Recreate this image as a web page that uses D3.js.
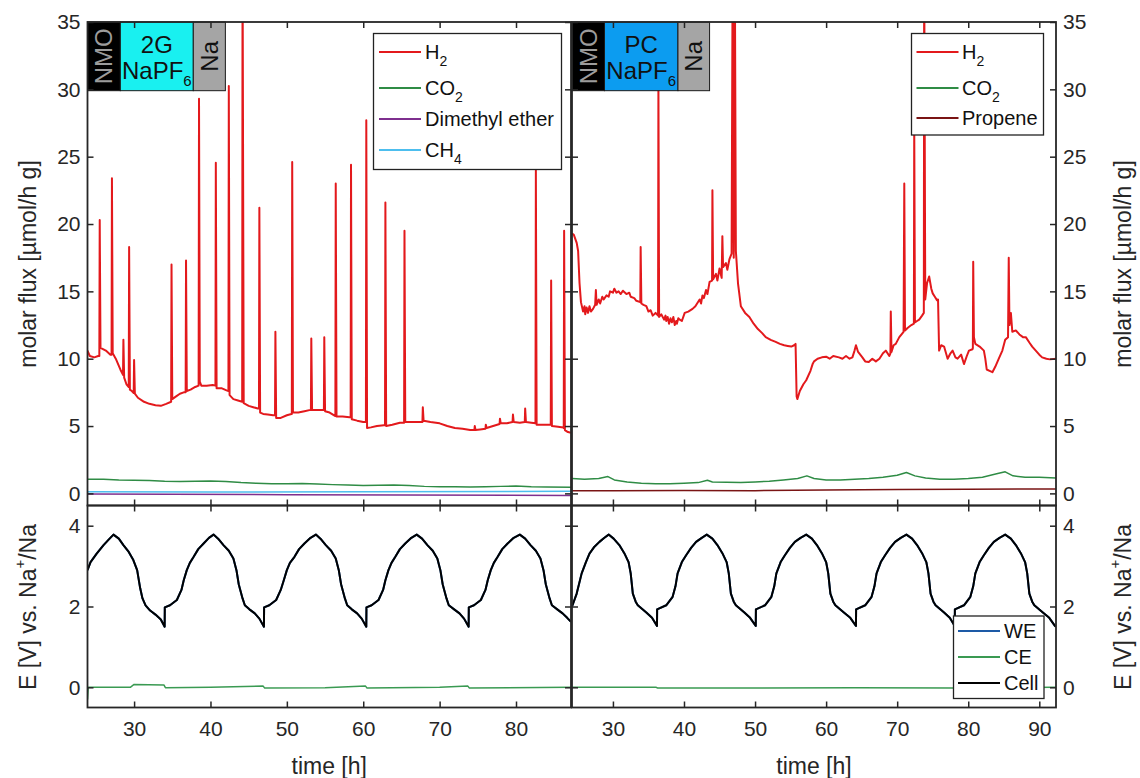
<!DOCTYPE html>
<html><head><meta charset="utf-8">
<script src="https://cdn.jsdelivr.net/npm/d3@7"></script>
<style>body{margin:0;background:#fff} text{font-family:"Liberation Sans",Arial,Helvetica,sans-serif}</style>
</head><body>
<script>
// ---------------- DATA ----------------
// time [h], molar flux [µmol/h g] — left panel (2G NaPF6)
const h2Left = [[23.9,10.6],[24.2,10.2],[24.8,10.1],[25.3,10.2],
[25.45,10.2],[25.5,20.3],[25.6,10.8],[25.8,10.75],[26.3,10.6],[26.9,10.3],
[27.05,10.3],[27.1,23.4],[27.2,10.4],[27.6,10.0],[28.2,9.2],
[28.55,8.8],[28.6,11.4],[28.7,8.6],[29.0,8.1],
[29.3,7.9],[29.35,18.3],[29.45,7.7],[29.7,7.6],
[29.95,7.45],[30.0,9.9],[30.1,7.4],[30.5,7.1],[31.3,6.8],[32.0,6.65],[32.8,6.55],[33.5,6.5],[34.2,6.65],
[34.85,6.8],[34.9,17.0],[35.0,7.0],[35.5,7.2],[36.0,7.4],[36.5,7.5],
[36.75,7.5],[36.8,17.3],[36.9,7.6],[37.4,7.7],[38.0,7.9],
[38.45,8.0],[38.5,29.3],[38.6,8.3],[38.8,8.0],[39.5,8.0],[40.3,8.05],
[40.65,8.0],[40.7,24.55],[40.8,7.8],[41.5,7.8],[42.1,7.65],
[42.35,7.6],[42.4,30.25],[42.5,7.3],[43.0,7.0],[43.6,6.9],
[44.15,6.8],[44.2,40],[44.35,6.7],[45.0,6.5],[45.6,6.4],[46.2,6.3],
[46.35,6.3],[46.4,21.2],[46.5,6.0],[46.9,5.9],[47.5,5.85],[48.2,5.8],
[48.45,5.8],[48.5,12.0],[48.6,5.6],[49.2,5.6],[50.0,5.8],[50.6,5.9],
[50.65,5.9],[50.7,24.6],[50.8,6.0],[51.5,6.0],[52.3,6.1],[53.1,6.2],
[53.15,6.2],[53.2,11.5],[53.3,6.2],[54.0,6.2],[54.8,6.2],
[54.85,6.2],[54.9,11.6],[55.0,6.1],[55.6,6.0],[56.3,5.75],
[56.35,5.75],[56.4,23.0],[56.5,5.7],[57.3,5.7],[58.2,5.65],
[58.35,5.65],[58.4,24.4],[58.5,5.5],[59.2,5.4],[60.0,5.3],
[60.35,5.3],[60.4,27.7],[60.5,4.85],[61.0,4.9],[61.8,5.0],[62.7,5.05],
[62.85,5.05],[62.9,21.6],[63.0,5.0],[63.8,5.1],[64.8,5.25],
[65.35,5.25],[65.4,19.5],[65.5,5.3],[66.3,5.3],[67.2,5.3],
[67.75,5.3],[67.8,6.4],[67.9,5.4],[68.8,5.3],[70.0,5.2],[71.0,5.0],[72.0,4.85],[73.0,4.8],[74.0,4.7],
[74.55,4.7],[74.6,5.0],[74.7,4.7],[75.3,4.75],[76.0,4.8],[76.05,5.1],[76.15,4.85],[77.0,5.0],[77.85,5.15],[77.9,5.55],[78.0,5.2],
[78.8,5.2],[79.55,5.3],[79.6,5.85],[79.7,5.3],[80.5,5.25],[81.15,5.3],[81.2,6.3],[81.3,5.3],[82.0,5.25],
[82.55,5.2],[82.6,24.0],[82.7,5.1],[83.5,5.1],[84.5,5.1],
[84.55,5.1],[84.6,15.8],[84.7,5.0],[85.5,4.95],[86.2,4.9],
[86.25,4.85],[86.3,19.5],[86.4,4.7],[86.8,4.55],[87.2,4.5]];
const co2Left = [[23.9,1.05],[26,1.05],[28,1.0],[30,0.98],[32,0.95],[34,0.9],[36,0.88],[38,0.9],[40,0.92],[42,0.88],[44,0.8],[46,0.75],[48,0.72],[50,0.72],[52,0.73],[54,0.7],[56,0.65],[58,0.62],[60,0.58],[62,0.6],[64,0.62],[66,0.58],[68,0.52],[70,0.5],[72,0.5],[74,0.48],[76,0.5],[78,0.52],[80,0.55],[82,0.5],[84,0.48],[87.2,0.45]];
const dmeLeft = [[23.9,-0.05],[35,-0.07],[50,-0.1],[65,-0.12],[87.2,-0.15]];
const ch4Left = [[23.9,0.12],[40,0.1],[60,0.12],[87.2,0.15]];

// right panel (PC NaPF6)
const h2Right = [[24.25,19.3],[24.5,19.2],[24.9,18.6],[25.1,18.0],[25.3,15.6],[25.5,14.2],[25.8,13.5],[26.0,13.9],[26.1,13.3],[26.3,13.8],[26.5,13.4],[26.7,13.9],[26.9,13.5],[27.2,13.7],[27.5,14.0],[27.6,15.1],[27.7,14.0],[28.0,14.4],[28.2,14.1],[28.5,14.6],[28.7,14.4],[29.1,14.7],[29.4,14.6],[29.6,15.0],[30.0,14.9],[30.2,15.2],[30.5,14.9],[30.8,15.0],[31.1,14.8],[31.4,15.05],[31.9,14.8],[32.3,14.9],[32.5,14.6],[33.0,14.5],[33.3,14.3],[33.85,14.2],[33.9,18.3],[34.0,14.1],[34.3,14.0],[34.7,13.9],[35.0,13.5],[35.3,13.6],[35.6,13.2],[36.0,13.4],[36.35,13.2],[36.4,30.5],[36.5,13.1],[36.8,13.3],[37.2,12.9],[37.4,13.2],[37.5,12.8],[37.7,13.1],[37.9,12.6],[38.1,13.0],[38.3,12.7],[38.5,13.1],[38.7,12.5],[38.9,12.8],[39.0,12.6],[39.2,13.0],[39.4,12.9],[39.7,12.8],[40.1,13.4],[40.6,13.5],[41.2,13.7],[41.6,13.9],[42.2,14.4],[42.4,14.1],[42.6,14.7],[42.8,14.5],[43.1,15.1],[43.3,14.8],[43.6,15.7],[43.95,15.8],[44.0,22.5],[44.1,15.9],[44.5,16.3],[44.7,15.8],[45.0,16.7],[45.3,16.0],[45.4,19.1],[45.5,16.8],[45.9,17.1],[46.1,16.6],[46.4,17.4],[46.7,17.8],[46.85,40],[47.0,17.5],[47.15,40],[47.3,18.0],[47.6,15.6],[48.0,13.9],[48.6,13.4],[49.2,13.1],[49.8,12.6],[50.4,12.2],[51.0,11.9],[51.5,11.6],[52.2,11.4],[52.9,11.25],[53.5,11.1],[54.1,11.0],[54.6,10.95],[55.1,10.9],[55.5,11.0],[55.7,11.1],[55.85,7.2],[55.95,7.0],[56.3,7.6],[56.8,8.1],[57.2,8.4],[57.8,9.1],[58.1,9.6],[58.3,9.8],[58.8,10.0],[59.4,10.1],[60.0,10.15],[60.5,10.0],[61.0,10.2],[61.8,10.1],[62.3,10.0],[62.8,10.2],[63.3,10.0],[63.7,10.1],[64.0,10.6],[64.2,11.0],[64.5,10.5],[65.1,10.1],[65.5,9.8],[66.0,9.75],[66.5,10.0],[67.0,9.8],[67.5,10.0],[68.0,10.4],[68.4,10.6],[68.9,10.2],[69.05,10.4],[69.1,13.5],[69.2,10.5],[69.5,11.0],[69.8,11.1],[70.3,11.6],[70.9,12.0],[71.0,23.0],[71.1,12.1],[71.5,12.3],[72.0,12.5],[72.35,12.6],[72.4,27.5],[72.5,12.7],[72.8,12.8],[73.1,12.9],[73.5,13.2],[73.75,13.4],[73.8,40],[73.95,14.4],[74.2,15.6],[74.5,16.1],[74.8,15.2],[75.0,14.85],[75.3,14.6],[75.6,14.35],[75.75,14.4],[75.9,10.6],[76.2,11.0],[76.6,10.9],[77.1,10.0],[77.5,10.4],[77.8,10.6],[78.2,10.1],[78.5,10.0],[79.0,10.3],[79.4,9.6],[79.8,10.2],[80.1,10.6],[80.6,10.7],[80.65,10.8],[80.7,17.2],[80.8,11.6],[81.0,11.1],[81.6,10.9],[82.2,10.6],[82.4,10.0],[82.6,9.2],[83.0,9.1],[83.4,9.0],[83.8,9.4],[84.3,10.0],[84.8,10.6],[85.2,11.4],[85.6,11.6],[85.7,17.5],[85.8,12.5],[86.0,13.4],[86.2,12.0],[86.7,12.1],[87.2,11.8],[87.7,11.6],[88.1,11.6],[88.6,11.2],[89.0,10.9],[89.5,10.6],[90.0,10.3],[90.4,10.1],[91.0,10.0],[91.5,9.95],[92.35,10.0]];
const co2Right = [[24.25,1.1],[26,1.05],[28,1.1],[29.3,1.25],[30.2,1.0],[32,0.85],[34,0.75],[36,0.72],[38,0.72],[40,0.75],[42,0.8],[43.3,0.97],[44,0.85],[46,0.82],[48,0.8],[50,0.85],[52,0.9],[54,1.0],[56,1.1],[57.3,1.3],[58.3,1.1],[60,1.0],[62,1.0],[64,1.05],[66,1.1],[68,1.2],[70,1.35],[71.3,1.55],[72.5,1.3],[74,1.15],[76,1.05],[78,1.05],[80,1.1],[82,1.2],[84,1.45],[85.2,1.6],[86.3,1.3],[88,1.2],[90,1.2],[92.35,1.15]];
const propeneRight = [[24.25,0.2],[30,0.2],[40,0.22],[50,0.2],[60,0.25],[70,0.28],[80,0.3],[92.35,0.33]];

// potentials E [V] vs Na+/Na
const cellLeft = [[23.9,2.9],[24.3,3.1],[25.1,3.31],[26.0,3.52],[26.7,3.66],[27.3,3.78],[28.0,3.68],[28.6,3.52],[29.3,3.35],[29.9,3.15],[30.4,2.9],[30.8,2.45],[31.1,2.2],[31.5,2.03],[32.1,1.9],[32.8,1.8],[33.5,1.68],[34.0,1.5],[34.02,1.98],
[34.7,2.03],[35.6,2.16],[36.2,2.41],[36.5,2.65],[36.9,2.9],[37.3,3.08],[37.8,3.23],[38.4,3.42],[39.1,3.56],[39.8,3.7],[40.4,3.78],[41.0,3.68],[41.7,3.52],[42.4,3.38],[43.0,3.19],[43.4,2.9],[43.7,2.55],[43.9,2.41],[44.2,2.2],[44.5,2.03],[45.1,1.93],[45.8,1.83],[46.4,1.7],[47.0,1.5],[47.02,1.98],
[47.7,2.03],[48.6,2.16],[49.2,2.41],[49.6,2.65],[50.0,2.9],[50.4,3.08],[51.0,3.23],[51.6,3.42],[52.3,3.56],[53.1,3.7],[53.8,3.78],[54.4,3.68],[55.1,3.52],[55.8,3.38],[56.4,3.19],[56.8,2.9],[57.1,2.55],[57.3,2.41],[57.6,2.2],[57.9,2.03],[58.5,1.93],[59.2,1.83],[59.8,1.7],[60.4,1.5],[60.42,1.98],
[61.1,2.03],[62.0,2.16],[62.6,2.41],[62.9,2.65],[63.3,2.9],[63.7,3.08],[64.2,3.23],[64.8,3.42],[65.5,3.56],[66.3,3.7],[67.0,3.78],[67.7,3.68],[68.4,3.52],[69.1,3.38],[69.7,3.19],[70.1,2.9],[70.4,2.55],[70.6,2.41],[70.9,2.2],[71.2,2.03],[71.9,1.93],[72.6,1.83],[73.2,1.7],[73.8,1.5],[73.82,1.98],
[74.5,2.03],[75.4,2.16],[76.0,2.41],[76.3,2.65],[76.7,2.9],[77.1,3.08],[77.6,3.23],[78.2,3.42],[78.9,3.56],[79.7,3.7],[80.5,3.78],[81.2,3.68],[81.9,3.52],[82.6,3.38],[83.2,3.19],[83.6,2.9],[83.9,2.55],[84.1,2.41],[84.4,2.2],[84.7,2.03],[85.4,1.93],[86.1,1.83],[86.7,1.72],[87.2,1.62]];
const weLeft = cellLeft;
const ceLeft = [[23.9,-0.3],[24.0,0.0],[29.5,0.0],[30.0,0.07],[33.9,0.06],[34.1,-0.01],[40,0.0],[46.9,0.03],[47.1,-0.02],[55,-0.01],[60.3,0.03],[60.5,-0.02],[70,0.0],[73.7,0.03],[73.9,-0.02],[87.2,0.0]];

const cellRight = [[24.25,2.0],[24.9,2.32],[25.6,2.82],[26.2,3.1],[26.7,3.31],[27.4,3.48],[28.1,3.6],[28.8,3.7],[29.4,3.78],[30.1,3.68],[30.9,3.52],[31.6,3.32],[32.2,3.1],[32.5,2.82],[32.8,2.32],[33.2,2.12],[33.5,2.03],[34.7,1.85],[35.5,1.72],[36.2,1.52],[36.22,1.93],
[37.5,2.03],[38.4,2.24],[38.8,2.5],[39.1,2.82],[39.7,3.1],[40.3,3.27],[41.0,3.45],[41.7,3.6],[42.5,3.7],[43.2,3.78],[44.0,3.68],[44.7,3.52],[45.4,3.32],[46.0,3.1],[46.3,2.82],[46.6,2.32],[47.0,2.12],[47.3,2.03],[48.5,1.85],[49.3,1.72],[50.1,1.52],[50.12,1.93],
[51.4,2.03],[52.3,2.24],[52.7,2.5],[53.0,2.82],[53.6,3.1],[54.2,3.27],[54.9,3.45],[55.6,3.6],[56.4,3.7],[57.2,3.78],[58.0,3.68],[58.7,3.52],[59.4,3.32],[60.0,3.1],[60.3,2.82],[60.6,2.32],[61.0,2.12],[61.3,2.03],[62.5,1.85],[63.4,1.72],[64.2,1.52],[64.22,1.93],
[65.5,2.03],[66.4,2.24],[66.8,2.5],[67.1,2.82],[67.7,3.1],[68.3,3.27],[69.0,3.45],[69.7,3.6],[70.5,3.7],[71.3,3.78],[72.1,3.68],[72.8,3.52],[73.5,3.32],[74.1,3.1],[74.4,2.82],[74.7,2.32],[75.1,2.12],[75.4,2.03],[76.6,1.85],[77.4,1.72],[78.1,1.52],[78.12,1.93],
[79.4,2.03],[80.3,2.24],[80.7,2.5],[81.0,2.82],[81.6,3.1],[82.2,3.27],[82.9,3.45],[83.6,3.6],[84.4,3.7],[85.2,3.78],[86.0,3.68],[86.7,3.52],[87.4,3.32],[88.0,3.1],[88.3,2.82],[88.6,2.32],[89.0,2.12],[89.3,2.03],[90.5,1.85],[91.4,1.72],[92.2,1.52],[92.35,1.5]];
const weRight = cellRight;
const ceRight = [[24.25,0.0],[36.1,0.0],[36.3,-0.02],[50,-0.02],[64,-0.01],[78,-0.02],[92.35,0.0]];

const xTicksLeft = [30,40,50,60,70,80];
const xTicksRight = [30,40,50,60,70,80,90];
const fluxTicks = [0,5,10,15,20,25,30,35];
const potTicks = [0,2,4];

// ---------------- CHART ----------------
const svg = d3.select("body").append("svg").attr("width",1140).attr("height",778);
const topY = d3.scaleLinear().domain([-0.9,35]).range([505.5,22]);
const botY = d3.scaleLinear().domain([-0.5,4.5]).range([707.5,505.5]);
const xL = d3.scaleLinear().domain([23.9,87.2]).range([87.5,571]);
const xR = d3.scaleLinear().domain([24.24,92.35]).range([572,1056]);

const C = {h2:"#e3191c", co2:"#2f8c45", dme:"#7e2f8e", ch4:"#4dbeee", prop:"#7a1414", we:"#1d5aa6", ce:"#3a9a52", cell:"#000"};
const AX = "#262626";

const defs = svg.append("defs");
let clipN = 0;
function clipFor(x,y){
  const id = "c"+(clipN++);
  defs.append("clipPath").attr("id",id).append("rect")
    .attr("x",x.range()[0]).attr("y",y.range()[1])
    .attr("width",x.range()[1]-x.range()[0]).attr("height",y.range()[0]-y.range()[1]);
  return "url(#"+id+")";
}
function drawLines(x,y,series){
  const g = svg.append("g").attr("clip-path",clipFor(x,y));
  series.forEach(s=>{
    g.append("path").datum(s.data).attr("fill","none").attr("stroke",s.color)
      .attr("stroke-width",s.w||1.6).attr("stroke-linejoin","round")
      .attr("d",d3.line().x(d=>x(d[0])).y(d=>y(d[1])));
  });
}
function axes(x,y,xt,yt,o){
  const g = svg.append("g");
  const b = y.range()[0], t = y.range()[1], l = x.range()[0], r = x.range()[1];
  g.append("g").attr("transform",`translate(0,${b})`)
    .call(d3.axisBottom(x).tickValues(xt).tickSizeInner(-6).tickSizeOuter(0).tickPadding(14).tickFormat(o.xl?d3.format("d"):""));
  g.append("g").attr("transform",`translate(0,${t})`)
    .call(d3.axisTop(x).tickValues(xt).tickSizeInner(-6).tickSizeOuter(0).tickFormat(""));
  g.append("g").attr("transform",`translate(${l},0)`)
    .call(d3.axisLeft(y).tickValues(yt).tickSizeInner(-6).tickSizeOuter(0).tickPadding(7).tickFormat(o.yl?d3.format("d"):""));
  g.append("g").attr("transform",`translate(${r},0)`)
    .call(d3.axisRight(y).tickValues(yt).tickSizeInner(-6).tickSizeOuter(0).tickPadding(7).tickFormat(o.yr?d3.format("d"):""));
  g.selectAll(".domain").remove();
  g.selectAll(".tick line").attr("stroke",AX).attr("stroke-width",1.5);
  g.selectAll(".tick text").attr("fill",AX).style("font-size","21px").style("font-family","'Liberation Sans',Arial,sans-serif");
  g.append("rect").attr("x",l).attr("y",t).attr("width",r-l).attr("height",b-t)
    .attr("fill","none").attr("stroke",AX).attr("stroke-width",1.8);
}

// lines
drawLines(xL,topY,[{data:co2Left,color:C.co2,w:1.5},{data:ch4Left,color:C.ch4,w:1.5},{data:dmeLeft,color:C.dme,w:1.5},{data:h2Left,color:C.h2,w:2}]);
drawLines(xR,topY,[{data:co2Right,color:C.co2,w:1.5},{data:propeneRight,color:C.prop,w:1.5},{data:h2Right,color:C.h2,w:2}]);
drawLines(xL,botY,[{data:weLeft,color:C.we,w:2},{data:ceLeft,color:C.ce,w:1.5},{data:cellLeft,color:C.cell,w:2}]);
drawLines(xR,botY,[{data:weRight,color:C.we,w:2},{data:ceRight,color:C.ce,w:1.5},{data:cellRight,color:C.cell,w:2}]);

// cell composition boxes
function cellBoxes(x, edges, midColor, midTop){
  const g = svg.append("g");
  const y0 = topY(35), y1 = topY(29.9);
  const cols = ["#000", midColor, "#a5a5a5"];
  for(let i=0;i<3;i++){
    g.append("rect").attr("x",x(edges[i])).attr("y",y0).attr("width",x(edges[i+1])-x(edges[i])).attr("height",y1-y0)
      .attr("fill",cols[i]).attr("stroke","#1a1a1a").attr("stroke-width",1);
  }
  const cy = (y0+y1)/2;
  const c0 = (x(edges[0])+x(edges[1]))/2, c1 = (x(edges[1])+x(edges[2]))/2, c2 = (x(edges[2])+x(edges[3]))/2;
  g.append("text").attr("transform",`translate(${c0},${cy}) rotate(-90)`).attr("text-anchor","middle")
    .attr("dominant-baseline","central").attr("fill","#9c9c9c").style("font-size","24px").text("NMO");
  g.append("text").attr("transform",`translate(${c2},${cy}) rotate(-90)`).attr("text-anchor","middle")
    .attr("dominant-baseline","central").attr("fill","#111").style("font-size","24px").text("Na");
  g.append("text").attr("x",c1).attr("y",y0+31).attr("text-anchor","middle").attr("fill","#111").style("font-size","24px").text(midTop);
  const t = g.append("text").attr("x",c1).attr("y",y0+57).attr("text-anchor","middle").attr("fill","#111").style("font-size","24px");
  t.append("tspan").text("NaPF");
  t.append("tspan").attr("dy",7).style("font-size","15px").text("6");
}
cellBoxes(xL,[23.9,28.2,37.75,41.95],"#19f0f0","2G");
cellBoxes(xR,[24.24,28.81,39.15,43.6],"#0c9cf0","PC");

axes(xL,topY,xTicksLeft,fluxTicks,{xl:false,yl:true,yr:false});
axes(xR,topY,xTicksRight,fluxTicks,{xl:false,yl:false,yr:true});
axes(xL,botY,xTicksLeft,potTicks,{xl:true,yl:true,yr:false});
axes(xR,botY,xTicksRight,potTicks,{xl:true,yl:false,yr:true});

// legends
function legend(box, lx0, lx1, tx, entries){
  const g = svg.append("g");
  g.append("rect").attr("x",box[0]).attr("y",box[1]).attr("width",box[2]-box[0]).attr("height",box[3]-box[1])
    .attr("fill","#fff").attr("stroke","#222").attr("stroke-width",1.3);
  entries.forEach(e=>{
    g.append("line").attr("x1",lx0).attr("x2",lx1).attr("y1",e.y).attr("y2",e.y).attr("stroke",e.color).attr("stroke-width",2);
    const t = g.append("text").attr("x",tx).attr("y",e.y+7).attr("fill","#111").style("font-size","20px");
    t.append("tspan").text(e.label);
    if(e.sub) t.append("tspan").attr("dy",7).style("font-size","14px").text(e.sub);
  });
}
legend([373.5,33.5,561.5,169.5],379,421,425,[
  {label:"H",sub:"2",color:C.h2,y:52},{label:"CO",sub:"2",color:C.co2,y:88},
  {label:"Dimethyl ether",color:C.dme,y:119},{label:"CH",sub:"4",color:C.ch4,y:150}]);
legend([911.5,33.5,1043.5,135],916.5,958.5,962,[
  {label:"H",sub:"2",color:C.h2,y:52},{label:"CO",sub:"2",color:C.co2,y:88},
  {label:"Propene",color:C.prop,y:118}]);
legend([953.5,616,1044,698.5],958,1000,1004,[
  {label:"WE",color:C.we,y:631},{label:"CE",color:C.ce,y:657},{label:"Cell",color:C.cell,y:683}]);

// axis titles
function vlabel(x,y,build){
  const t = svg.append("text").attr("transform",`translate(${x},${y}) rotate(-90)`).attr("text-anchor","middle")
    .attr("dominant-baseline","central").attr("fill",AX).style("font-size","23px");
  build(t);
}
const fluxLab = t=>t.text("molar flux [µmol/h g]");
const potLab = t=>{ t.append("tspan").text("E [V] vs. Na"); t.append("tspan").attr("dy",-9).style("font-size","15px").text("+"); t.append("tspan").attr("dy",9).text("/Na"); };
vlabel(28,264,fluxLab); vlabel(1123,264,fluxLab);
vlabel(28,607,potLab); vlabel(1123,607,potLab);
[[xL],[xR]].forEach(([x])=>{
  svg.append("text").attr("x",(x.range()[0]+x.range()[1])/2).attr("y",774).attr("text-anchor","middle")
    .attr("fill",AX).style("font-size","23px").text("time [h]");
});
</script>
</body></html>
